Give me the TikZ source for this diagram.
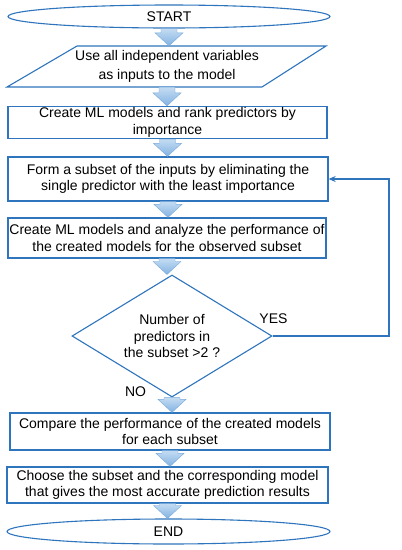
\documentclass[tikz,border=0pt]{standalone}
\usepackage{fontspec}
\setmainfont{Liberation Sans}
\usetikzlibrary{shapes.geometric,arrows.meta,calc}
\definecolor{lineblue}{RGB}{46,117,190}
\definecolor{arrtop}{RGB}{196,220,242}
\definecolor{arrbot}{RGB}{130,178,226}
\definecolor{arredge}{RGB}{120,170,220}
\tikzset{
  x=1pt,y=-1pt,
  every node/.style={font=\fontsize{14}{16.7}\selectfont, align=center, inner sep=0pt},
  stepbox/.style={draw=lineblue, line width=1.3pt, rectangle},
  termbox/.style={draw=lineblue, line width=1.1pt, ellipse},
  decbox/.style={draw=lineblue, line width=1.1pt, diamond, aspect=1.64},
  outline/.style={draw=lineblue, line width=1.1pt},
  blockarr/.style={top color=arrtop, bottom color=arrbot, draw=arredge, line width=0.4pt},
  loopline/.style={draw=lineblue, line width=1.3pt, -{Stealth[length=7pt,width=6pt]}},
}
% block arrow from node #1 (south) to node #2 (north)
\newcommand\barrow[2]{%
  \path[blockarr] let \p1=(#1.south), \p2=(#2.north) in
    ({\x1-8pt},\y1) -- ({\x1+8pt},\y1) -- ({\x1+8pt},{\y2+13pt}) -- ({\x1+14pt},{\y2+13pt})
    -- (\x1,\y2) -- ({\x1-14pt},{\y2+13pt}) -- ({\x1-8pt},{\y2+13pt}) -- cycle;}
\begin{document}
\begin{tikzpicture}
\useasboundingbox (0,0) rectangle (402,550);
\fill[white] (0,0) rectangle (402,550);

\node[termbox, minimum width=322pt, minimum height=23pt] (start) at (169,16.5) {START};

\node[minimum width=200pt, minimum height=41pt, font=\fontsize{14}{18.7}\selectfont] (inp) at (167,66.5) {Use all independent variables\\as inputs to the model};
\draw[outline] (77,46) -- (326,46) -- (262,87) -- (7,87) -- cycle;

\node[stepbox, minimum width=319pt, minimum height=32pt] (b1) at (167.5,122.5) {Create ML models and rank predictors by\\importance};
\node[stepbox, minimum width=320pt, minimum height=44pt] (b2) at (168,179) {Form a subset of the inputs by eliminating the\\single predictor with the least importance};
\node[stepbox, minimum width=318pt, minimum height=40pt] (b3) at (167,238) {Create ML models and analyze the performance of\\the created models for the observed subset};
\node[decbox, minimum width=200pt, minimum height=122pt] (dec) at (172,336) {Number of\\predictors in\\the subset >2 ?};
\node[stepbox, minimum width=320pt, minimum height=37pt] (b4) at (170,431.5) {Compare the performance of the created models\\for each subset};
\node[stepbox, minimum width=321pt, minimum height=36pt] (b5) at (167.5,485) {Choose the subset and the corresponding model\\that gives the most accurate prediction results};
\node[termbox, minimum width=323pt, minimum height=25pt] (end) at (168.5,531.5) {END};

\node (yes) at (273.5,319) {YES};
\node (no) at (135.5,392) {NO};

\barrow{start}{inp}
\barrow{inp}{b1}
\barrow{b1}{b2}
\barrow{b2}{b3}
\barrow{b3}{dec}
\barrow{dec}{b4}
\barrow{b4}{b5}
\barrow{b5}{end}

\coordinate (loopc) at (389,336);
\draw[loopline] (dec.east) -- (loopc) |- (b2.east);
\end{tikzpicture}
\end{document}
